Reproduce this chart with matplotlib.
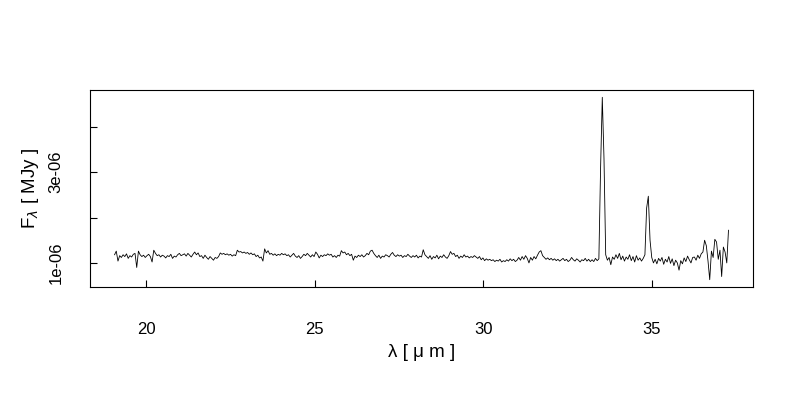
import numpy as np
import matplotlib
matplotlib.use('Agg')
import matplotlib.pyplot as plt

plt.rcParams['font.family'] = ['Liberation Sans', 'DejaVu Sans']

wave_start, wave_end = 19.053, 37.275
flux_e8 = [
    118, 126, 104, 116, 112, 118, 114, 120, 110, 116, 113, 119, 121, 90, 126, 118, 114, 117, 112, 116,
    119, 114, 102, 128, 121, 116, 118, 113, 117, 115, 111, 116, 114, 119, 110, 115, 113, 118, 121, 116,
    118, 120, 115, 121, 117, 113, 119, 124, 118, 122, 114, 116, 110, 117, 112, 108, 114, 110, 106, 112,
    110, 114, 122, 119, 121, 118, 120, 117, 119, 115, 118, 116, 128, 124, 125, 122, 124, 121, 123, 119,
    122, 118, 120, 114, 117, 111, 113, 104, 131, 122, 127, 119, 121, 117, 120, 116, 119, 117, 121, 118,
    120, 116, 118, 113, 117, 121, 115, 112, 116, 110, 114, 119, 116, 121, 117, 113, 118, 114, 124, 119,
    111, 117, 114, 118, 116, 120, 117, 119, 113, 116, 112, 117, 115, 127, 122, 124, 118, 121, 116, 119,
    106, 115, 112, 117, 114, 118, 113, 116, 121, 118, 126, 128, 121, 116, 112, 117, 110, 115, 113, 118,
    116, 113, 119, 123, 117, 114, 118, 115, 117, 112, 116, 114, 119, 115, 112, 116, 113, 117, 111, 115,
    113, 129, 118, 114, 110, 116, 108, 114, 111, 117, 109, 115, 112, 118, 113, 110, 116, 125, 119, 121,
    114, 117, 110, 115, 112, 118, 113, 115, 111, 114, 112, 116, 113, 110, 114, 107, 111, 105, 109, 106,
    108, 105, 107, 103, 106, 104, 108, 102, 105, 103, 107, 104, 109, 105, 108, 103, 106, 112, 106, 114,
    108, 116, 110, 100, 112, 106, 114, 109, 117, 124, 127, 116, 112, 108, 111, 107, 110, 106, 109, 105,
    108, 104, 107, 110, 105, 108, 103, 106, 112, 107, 104, 109, 106, 102, 107, 105, 110, 104, 108, 103,
    107, 103, 110, 105, 109, 309, 465, 330, 118, 106, 112, 96, 113, 108, 118, 110, 121, 107, 115, 104,
    113, 108, 118, 105, 114, 102, 116, 106, 111, 104, 110, 118, 221, 247, 150, 112, 100, 108, 98, 110,
    104, 112, 97, 108, 102, 114, 99, 109, 94, 106, 100, 84, 105, 98, 111, 103, 115, 107, 100, 112,
    113, 106, 117, 110, 120, 124, 150, 138, 104, 63, 126, 112, 152, 146, 108, 128, 70, 135, 124, 100,
    172,
]

flux = np.array(flux_e8) * 1e-8
wave = np.linspace(wave_start, wave_end, len(flux))

fig = plt.figure(figsize=(8, 4), dpi=100)
ax = fig.add_axes([0.1125, 0.2825, 0.8288, 0.4925])

ax.plot(wave, flux, color='black', linewidth=0.6)

# R style 4% padding
xr = wave.max() - wave.min()
yr = flux.max() - flux.min()
ax.set_xlim(wave.min() - 0.04 * xr, wave.max() + 0.04 * xr)
ax.set_ylim(flux.min() - 0.04 * yr, flux.max() + 0.04 * yr)

ax.set_xticks([20, 25, 30, 35])
ax.set_yticks([1e-6, 2e-6, 3e-6, 4e-6])
ax.set_yticklabels(['1e-06', '', '3e-06', ''], rotation=90, va='center')
ax.tick_params(axis='both', direction='in', length=5, width=0.8, labelsize=12)
ax.tick_params(axis='x', pad=25)
ax.tick_params(axis='y', pad=19)

for s in ax.spines.values():
    s.set_linewidth(0.8)

ax.set_xlabel('λ [ μ m ]', fontsize=13.5)
ax.set_ylabel(r'F$_\lambda$ [ MJy ]', fontsize=13.5)
ax.xaxis.set_label_coords(0.5, -0.33)
ax.xaxis.label.set_va('center')
ax.yaxis.set_label_coords(-0.09, 0.5)
ax.yaxis.label.set_va('center')

fig.savefig('out.png', dpi=100)
